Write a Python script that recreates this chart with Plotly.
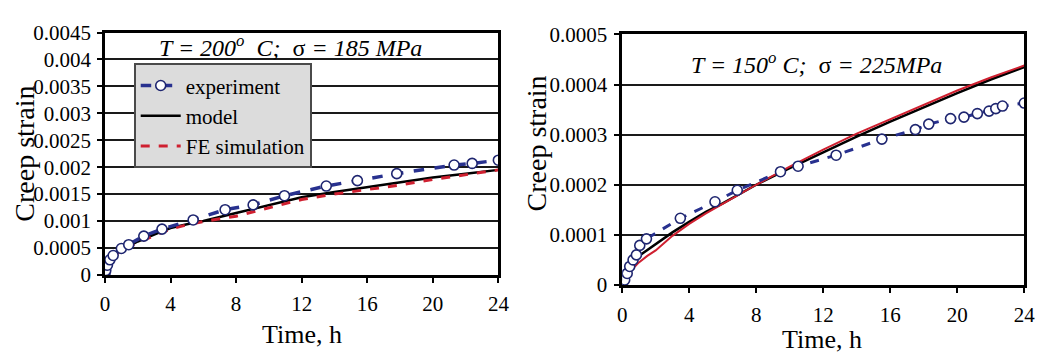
import plotly.graph_objects as go

# ---------------- data ----------------
# Left panel: T = 200 C, sigma = 185 MPa
left_exp_time = [0, 0.05, 0.15, 0.3, 0.5, 1.0, 1.45, 2.37, 3.48, 5.38, 7.33, 9.04,
                 10.95, 13.5, 15.4, 17.8, 21.3, 22.4, 24]
left_exp_strain = [0, 0.00008, 0.00018, 0.00028, 0.00036, 0.00049, 0.00056, 0.00072,
                   0.00085, 0.00102, 0.00121, 0.0013, 0.00147, 0.00165, 0.00175,
                   0.00188, 0.00204, 0.00207, 0.00213]
left_curve_time = [0, 0.1, 0.25, 0.5, 1, 1.5, 2, 3, 4, 5, 6, 8, 10, 12, 14, 16, 18,
                   20, 22, 24]
left_model_strain = [0, 0.00016, 0.00025, 0.00035, 0.00046, 0.00054, 0.00062, 0.00075,
                     0.00087, 0.00094, 0.001, 0.00115, 0.0013, 0.00144, 0.00154,
                     0.00163, 0.00172, 0.00181, 0.00188, 0.00195]
left_fe_strain = [0, 0.00015, 0.00024, 0.00034, 0.00045, 0.00053, 0.0006, 0.00073,
                  0.00085, 0.00093, 0.00099, 0.00109, 0.00125, 0.0014, 0.0015,
                  0.00158, 0.00167, 0.00177, 0.00186, 0.00195]

# Right panel: T = 150 C, sigma = 225 MPa
right_exp_time = [0, 0.15, 0.3, 0.45, 0.65, 0.85, 1.05, 1.45, 3.47, 5.54, 6.87, 9.45,
                  10.5, 12.77, 15.5, 17.5, 18.3, 19.6, 20.4, 21.2, 21.9, 22.3, 22.7, 24]
right_exp_strain = [0, 0.00001, 0.000023, 0.000037, 0.00005, 0.00006, 0.000079,
                    0.000092, 0.000133, 0.000166, 0.000189, 0.000226, 0.000237,
                    0.000259, 0.000291, 0.00031, 0.000321, 0.000332, 0.000335,
                    0.000342, 0.000347, 0.000352, 0.000357, 0.000363]
right_curve_time = [0, 0.1, 0.25, 0.5, 1, 1.5, 2, 3, 4, 5, 6, 8, 10, 12, 14, 16, 18,
                    20, 22, 24]
right_model_strain = [0, 0.000018, 0.00003, 0.000042, 0.000058, 0.00007, 0.000081,
                      0.000105, 0.000126, 0.000146, 0.000163, 0.0002, 0.000233,
                      0.000265, 0.000296, 0.000326, 0.000355, 0.000383, 0.00041,
                      0.000435]
right_fe_strain = [0, 0.000008, 0.000016, 0.000028, 0.000045, 0.000058, 0.000069,
                   0.000098, 0.000122, 0.000143, 0.000162, 0.0002, 0.000236, 0.00027,
                   0.000302, 0.000331, 0.00036, 0.000388, 0.000414, 0.000438]

series_names = ["experiment", "model", "FE simulation"]

x_tick_vals = [0, 4, 8, 12, 16, 20, 24]
x_tick_text = ["0", "4", "8", "12", "16", "20", "24"]
left_y_tick_vals = [0, 0.0005, 0.001, 0.0015, 0.002, 0.0025, 0.003, 0.0035, 0.004, 0.0045]
left_y_tick_text = ["0", "0.0005", "0.001", "0.0015", "0.002", "0.0025", "0.003",
                    "0.0035", "0.004", "0.0045"]
right_y_tick_vals = [0, 0.0001, 0.0002, 0.0003, 0.0004, 0.0005]
right_y_tick_text = ["0", "0.0001", "0.0002", "0.0003", "0.0004", "0.0005"]

left_condition = "<i>T = 200<sup>o</sup>  C;</i>  σ <i>= 185 MPa</i>"
right_condition = "<i>T = 150<sup>o</sup> C;</i>  σ <i>= 225MPa</i>"
y_title = "Creep strain"
x_title = "Time, h"

# ---------------- styling ----------------
W, H = 1052, 363
SERIF = "Liberation Serif"
EXP_LINE = "#28318f"
EXP_MARK = "#1f2670"
RED = "#cf2030"


def px_x(p):
    return p / W


def px_y(p):
    return 1 - p / H


fig = go.Figure()

# left panel traces (drawn model, FE, experiment; legend order experiment first)
fig.add_trace(go.Scatter(x=left_curve_time, y=left_model_strain, mode="lines",
                         name=series_names[1], legendrank=2,
                         line=dict(color="black", width=2.5),
                         xaxis="x", yaxis="y"))
fig.add_trace(go.Scatter(x=left_curve_time, y=left_fe_strain, mode="lines",
                         name=series_names[2], legendrank=3,
                         line=dict(color=RED, width=3, dash="dash"),
                         xaxis="x", yaxis="y"))
fig.add_trace(go.Scatter(x=left_exp_time, y=left_exp_strain, mode="lines+markers",
                         name=series_names[0], legendrank=1,
                         line=dict(color=EXP_LINE, width=3.5, dash="dash"),
                         marker=dict(symbol="circle", size=10, color="white",
                                     line=dict(color=EXP_MARK, width=1.6)),
                         xaxis="x", yaxis="y"))

# right panel traces
fig.add_trace(go.Scatter(x=right_curve_time, y=right_model_strain, mode="lines",
                         name=series_names[1], showlegend=False,
                         line=dict(color="black", width=2.5),
                         xaxis="x2", yaxis="y2"))
fig.add_trace(go.Scatter(x=right_curve_time, y=right_fe_strain, mode="lines",
                         name=series_names[2], showlegend=False,
                         line=dict(color=RED, width=2),
                         xaxis="x2", yaxis="y2"))
fig.add_trace(go.Scatter(x=right_exp_time, y=right_exp_strain, mode="lines+markers",
                         name=series_names[0], showlegend=False,
                         line=dict(color=EXP_LINE, width=3, dash="dash"),
                         marker=dict(symbol="circle", size=10, color="white",
                                     line=dict(color=EXP_MARK, width=1.6)),
                         xaxis="x2", yaxis="y2"))

axis_common = dict(showline=True, linecolor="black", linewidth=2.5, mirror=True,
                   zeroline=False, ticks="outside", tickcolor="black",
                   tickwidth=1.5, ticklen=5,
                   tickfont=dict(family=SERIF, size=21, color="black"))

fig.update_layout(
    width=W, height=H, autosize=False,
    margin=dict(l=0, r=0, t=0, b=0),
    paper_bgcolor="white", plot_bgcolor="white",
    xaxis=dict(domain=[px_x(101.5), px_x(501)], range=[0, 24],
               tickmode="array", tickvals=x_tick_vals, ticktext=x_tick_text,
               showgrid=False, anchor="y", ticklabelstandoff=3, **axis_common),
    yaxis=dict(domain=[px_y(281.5), px_y(22)], range=[0, 0.0045],
               tickmode="array", tickvals=left_y_tick_vals, ticktext=left_y_tick_text,
               showgrid=True, gridcolor="#1a1a1a", gridwidth=1.6, anchor="x",
               ticklabelstandoff=2, **axis_common),
    xaxis2=dict(domain=[px_x(626.7), px_x(1035)], range=[0, 24],
                tickmode="array", tickvals=x_tick_vals, ticktext=x_tick_text,
                showgrid=False, anchor="y2", ticklabelstandoff=4, **axis_common),
    yaxis2=dict(domain=[px_y(292.3), px_y(24)], range=[0, 0.0005],
                tickmode="array", tickvals=right_y_tick_vals, ticktext=right_y_tick_text,
                showgrid=True, gridcolor="#1a1a1a", gridwidth=1.6, anchor="x2",
                ticklabelstandoff=3, **axis_common),
    legend=dict(x=px_x(130.7), y=px_y(55), xanchor="left", yanchor="top",
                bgcolor="#dcdcdc", bordercolor="#4a4a4a", borderwidth=2,
                font=dict(family=SERIF, size=21, color="black"),
                tracegroupgap=0, itemwidth=40),
    showlegend=True,
)

annotations = [
    dict(text=left_condition, x=px_x(290), y=px_y(36), xref="paper", yref="paper",
         xanchor="center", yanchor="middle", showarrow=False,
         font=dict(family=SERIF, size=24, color="black")),
    dict(text=right_condition, x=px_x(824), y=px_y(55), xref="paper", yref="paper",
         xanchor="center", yanchor="middle", showarrow=False,
         font=dict(family=SERIF, size=24, color="black")),
    dict(text=y_title, x=px_x(20), y=px_y(152), xref="paper", yref="paper",
         xanchor="center", yanchor="middle", showarrow=False, textangle=-90,
         font=dict(family=SERIF, size=28, color="black")),
    dict(text=y_title, x=px_x(540), y=px_y(141), xref="paper", yref="paper",
         xanchor="center", yanchor="middle", showarrow=False, textangle=-90,
         font=dict(family=SERIF, size=28, color="black")),
    dict(text=x_title, x=px_x(302), y=px_y(345), xref="paper", yref="paper",
         xanchor="center", yanchor="middle", showarrow=False,
         font=dict(family=SERIF, size=26, color="black")),
    dict(text=x_title, x=px_x(830), y=px_y(351), xref="paper", yref="paper",
         xanchor="center", yanchor="middle", showarrow=False,
         font=dict(family=SERIF, size=26, color="black")),
]
fig.update_layout(annotations=annotations)

fig.write_html("out.html", config={"displayModeBar": False},
               post_script="document.body.style.margin='0';document.body.style.overflow='hidden';")
